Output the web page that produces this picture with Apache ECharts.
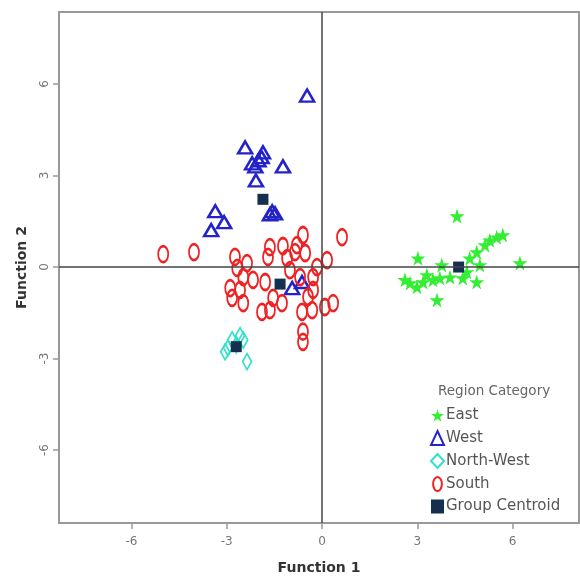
<!DOCTYPE html>
<html>
<head>
<meta charset="utf-8">
<script src="https://cdn.jsdelivr.net/npm/echarts@6/dist/echarts.min.js"></script>
<style>
  html, body { margin: 0; padding: 0; background: #fff; }
  #chart { width: 580px; height: 578px; }
</style>
</head>
<body>
<div id="chart"></div>
<script>
// Discriminant function scores (Function 1, Function 2) per region
const eastPoints = [
  [4.25, 1.67], [3.02, 0.29], [6.23, 0.13], [5.69, 1.05], [5.28, 0.88],
  [5.13, 0.72], [4.87, 0.49], [4.65, 0.29], [3.77, 0.07], [2.77, -0.52],
  [2.99, -0.65], [3.18, -0.49], [3.49, -0.42], [3.71, -0.36], [4.03, -0.33],
  [4.43, -0.36], [4.87, -0.49], [3.62, -1.08], [2.61, -0.42], [4.56, -0.16],
  [4.97, 0.07], [5.50, 0.98], [3.30, -0.26]
];
const westPoints = [
  [-0.47, 5.62], [-2.42, 3.92], [-1.86, 3.76], [-2.00, 3.50], [-2.20, 3.40],
  [-1.90, 3.60], [-2.10, 3.30], [-1.23, 3.30], [-2.08, 2.84], [-1.57, 1.83],
  [-1.48, 1.76], [-1.64, 1.73], [-3.36, 1.83], [-3.08, 1.47], [-3.49, 1.21],
  [-0.94, -0.69], [-0.63, -0.49]
];
const northWestPoints = [
  [-2.58, -2.25], [-2.48, -2.39], [-2.70, -2.55], [-3.05, -2.78],
  [-2.96, -2.65], [-2.36, -3.10], [-2.83, -2.39]
];
const southPoints = [
  [-5.00, 0.42], [-4.03, 0.49], [0.63, 0.98], [-0.60, 1.05], [-1.64, 0.65],
  [-1.23, 0.69], [-0.85, 0.49], [-0.53, 0.46], [-2.74, 0.33], [-2.36, 0.13],
  [-1.70, 0.33], [-1.10, 0.29], [0.16, 0.23], [-0.16, 0.00], [-2.67, -0.03],
  [-2.48, -0.33], [-2.17, -0.42], [-1.79, -0.49], [-1.01, -0.10], [-0.69, -0.33],
  [-0.28, -0.33], [-2.89, -0.69], [-2.58, -0.75], [-2.83, -1.01], [-2.48, -1.18],
  [-1.89, -1.47], [-1.64, -1.41], [-1.26, -1.18], [-1.54, -1.01], [-0.63, -1.47],
  [-0.31, -1.41], [0.09, -1.31], [0.35, -1.18], [-0.60, -2.12], [-0.60, -2.45],
  [-0.28, -0.75], [-0.44, -0.98], [-0.79, 0.72]
];
const centroidPoints = [
  [4.30, 0.00], [-1.86, 2.22], [-2.70, -2.61], [-1.32, -0.56]
];
const tickValues = [-6, -3, 0, 3, 6];

const FONT = 'DejaVu Sans, Verdana, sans-serif';
const starPath = 'path://M50,0 L61,35 L98,35 L68,57 L79,91 L50,70 L21,91 L32,57 L2,35 L39,35 Z';
const ovalPath = 'path://M50,0 A50,80 0 1,1 50,160 A50,80 0 1,1 50,0 Z';

const chart = echarts.init(document.getElementById('chart'), null, { renderer: 'canvas' });

function axisBase(extra) {
  return Object.assign({
    type: 'value',
    splitLine: { show: false },
    axisLine: { show: false, onZero: false },
    axisTick: {
      show: true, inside: false, length: 6,
      lineStyle: { color: '#999', width: 1.5 },
      customValues: tickValues
    },
    axisLabel: {
      color: '#777', fontSize: 12, fontFamily: FONT,
      customValues: tickValues
    },
    nameLocation: 'middle',
    nameTextStyle: { color: '#333', fontSize: 14, fontWeight: 'bold', fontFamily: FONT }
  }, extra);
}

const xAxis = axisBase({ min: -8.28, max: 8.09, name: 'Function 1', nameGap: 38 });
xAxis.axisLabel.margin = 13;
const yAxis = axisBase({ min: -8.39, max: 8.36, name: 'Function 2', nameGap: 30 });
yAxis.axisLabel.rotate = 90;
yAxis.axisLabel.margin = 8;

chart.setOption({
  animation: false,
  backgroundColor: '#fff',
  title: {
    text: 'Region Category',
    left: 433, top: 379,
    textStyle: { color: '#666', fontSize: 13.5, fontWeight: 'normal', fontFamily: FONT }
  },
  legend: {
    orient: 'vertical',
    left: 425, top: 403,
    itemGap: 7,
    itemWidth: 13, itemHeight: 14,
    textStyle: { color: '#555', fontSize: 15, fontFamily: FONT, padding: [0, 0, 0, -3] },
    data: ['East', 'West', 'North-West', 'South', 'Group Centroid']
  },
  grid: {
    left: 59, top: 12, width: 520, height: 511,
    outerBoundsMode: 'none',
    show: true, borderColor: '#999', borderWidth: 2, backgroundColor: '#fff'
  },
  xAxis: xAxis,
  yAxis: yAxis,
  series: [
    {
      name: 'East', type: 'scatter', data: eastPoints,
      symbol: starPath, symbolSize: 15,
      itemStyle: { color: '#33ee33', opacity: 1 },
      markLine: {
        silent: true, symbol: 'none', label: { show: false },
        lineStyle: { color: '#444', width: 1.5, type: 'solid' },
        data: [{ xAxis: 0 }, { yAxis: 0 }]
      },
      z: 3
    },
    {
      name: 'West', type: 'scatter', data: westPoints,
      symbol: 'triangle', symbolSize: [14, 12],
      itemStyle: { color: 'rgba(255,255,255,0)', borderColor: '#2323c8', borderWidth: 2.5, opacity: 1 },
      z: 3
    },
    {
      name: 'North-West', type: 'scatter', data: northWestPoints,
      symbol: 'diamond', symbolSize: [9, 16],
      itemStyle: { color: 'rgba(255,255,255,0)', borderColor: '#33e0cc', borderWidth: 1.8, opacity: 1 },
      z: 3
    },
    {
      name: 'South', type: 'scatter', data: southPoints,
      symbol: ovalPath, symbolSize: [10, 16],
      itemStyle: { color: 'rgba(255,255,255,0)', borderColor: '#ee2222', borderWidth: 2.2, opacity: 1 },
      z: 3
    },
    {
      name: 'Group Centroid', type: 'scatter', data: centroidPoints,
      symbol: 'rect', symbolSize: 11,
      itemStyle: { color: '#14304e', opacity: 1 },
      z: 4
    }
  ]
});
</script>
</body>
</html>
